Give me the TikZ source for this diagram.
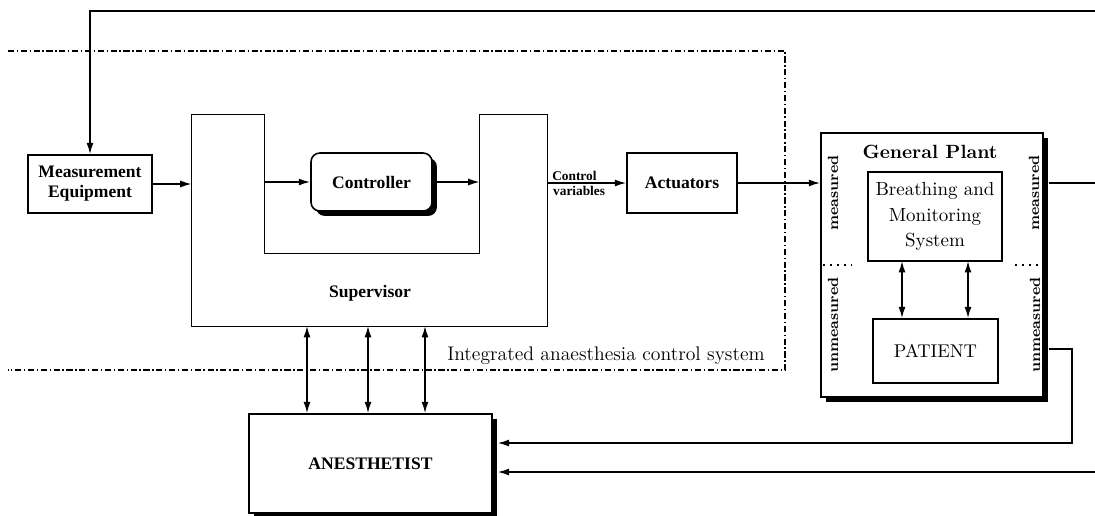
\documentclass[tikz,border=0pt]{standalone}
\usepackage{fontspec}
\newfontfamily\tms{Liberation Serif}
\usetikzlibrary{arrows.meta,shadows,fit}
\begin{document}
\begin{tikzpicture}[x=0.02cm,y=-0.02cm,
  ln/.style={line width=0.9pt},
  box/.style={draw, line width=0.9pt, inner sep=0pt, align=center},
  ghost/.style={inner sep=0pt},
  arr/.style={line width=0.9pt, -{Latex[length=6.5pt,width=4pt]}},
  darr/.style={line width=0.9pt, {Latex[length=6.5pt,width=4pt]}-{Latex[length=6.5pt,width=4pt]}},
  dd/.style={line width=0.8pt, dash pattern=on 3.5pt off 1.5pt on 0.8pt off 1.5pt},
  dots/.style={line width=0.7pt, dash pattern=on 1.2pt off 2.8pt},
  tlab/.style={font=\tms\bfseries\fontsize{10}{11.3}\selectfont},
  shad/.style={drop shadow={shadow xshift=2.8pt, shadow yshift=-2.8pt, fill=black, opacity=1}},
  side/.style={rotate=90, font=\bfseries\fontsize{8.4}{10}\selectfont}
]
\useasboundingbox (0,0) rectangle (1095,515);

% system boundary
\draw[dd] (8,51) -- (785,51) -- (785,370) -- (8,370);
\node[anchor=base west, font=\fontsize{11.2}{13}\selectfont, inner sep=0pt] (ilab) at (447,360) {Integrated anaesthesia control system};

% boxes
\node[box, tlab, fit={(28,155) (152,213)}] (meas) {};
\node[tlab, align=center] at (meas.center) {Measurement\\Equipment};

\node[ghost, fit={(192,115) (264,326)}] (supL) {};
\node[ghost, fit={(480,115) (547,326)}] (supR) {};
\node[ghost, fit={(192,254) (547,326)}] (supB) {};
\draw[ln] (supL.north west) -- (supL.north east) -- (supL.east |- supB.north) -- (supR.west |- supB.north)
  -- (supR.north west) -- (supR.north east) -- (supB.south east) -- (supB.south west) -- cycle;
\node[tlab] (suplab) at (370,293) {Supervisor};

\node[box, rounded corners=5pt, fill=white, shad, fit={(311,153) (432,211)}] (ctrl) {};
\node[tlab] at (ctrl.center) {Controller};

\node[box, fit={(627,153) (737,213)}] (act) {};
\node[tlab] at (act.center) {Actuators};

\node[box, fill=white, shad, fit={(821,133) (1043,397)}] (plant) {};
\node[font=\bfseries\fontsize{10.9}{13}\selectfont] (gp) at (930,152) {General Plant};
\node[box, fit={(868,172) (1002,261)}] (breath) {};
\node[align=center, font=\fontsize{10.8}{14.7}\selectfont] at (breath.center) {Breathing and\\Monitoring\\System};
\node[box, fit={(873,319) (998,383)}] (patient) {};
\node[font=\fontsize{10.5}{12}\selectfont] at (patient.center) {PATIENT};

\node[side] (m1) at (833,193) {measured};
\node[side] (m2) at (1034,193) {measured};
\node[side] (u1) at (833,325) {unmeasured};
\node[side] (u2) at (1035,325) {unmeasured};
\draw[dots] (823,265) -- (852,265);
\draw[dots] (1015,265) -- (1043,265);

\node[box, fill=white, shad, fit={(249,414) (492,513)}] (anest) {};
\node[tlab] at (anest.center) {ANESTHETIST};

% feedback coordinates
\coordinate (ftop) at (90,11);
\coordinate (fr1) at (1095,11);
\coordinate (fr2) at (1095,183);
\coordinate (fr3) at (1095,472);
\coordinate (um1) at (1072,349);
\coordinate (um2) at (1072,443);

% connectors
\draw[arr] (fr1) -- (ftop) -- (meas.north);
\draw[arr] (meas.east) -- (meas.east -| supL.west);
\draw[arr] (ctrl.west -| supL.east) -- (ctrl.west);
\draw[arr] (ctrl.east) -- (ctrl.east -| supR.west);
\draw[arr] (act.west -| supR.east) -- node[pos=0.03, anchor=south west, inner sep=1pt, tlab, font=\tms\bfseries\fontsize{7.6}{8}\selectfont] {Control} node[pos=0.03, anchor=north west, inner sep=1.5pt, font=\tms\bfseries\fontsize{7.6}{8}\selectfont] {variables} (act.west);
\draw[arr] (act.east) -- (act.east -| plant.west);
\draw[ln] ([xshift=2.8pt]plant.east |- act.east) -- (fr2);
\draw[arr] ([xshift=2.8pt]plant.east |- um1) -- (um1) -- (um2) -- ([xshift=2.8pt]anest.east |- um2);
\draw[arr] (fr3) -- ([xshift=2.8pt]anest.east |- fr3);

\foreach \x/\n in {307/s1, 368/s2, 425/s3} {
  \coordinate (\n) at (\x,326);
  \draw[darr] (\n) -- (\n |- anest.north);
}
\foreach \x/\n in {902/p1, 968/p2} {
  \coordinate (\n) at (\x,261);
  \draw[darr] (\n) -- (\n |- patient.north);
}
\end{tikzpicture}
\end{document}
